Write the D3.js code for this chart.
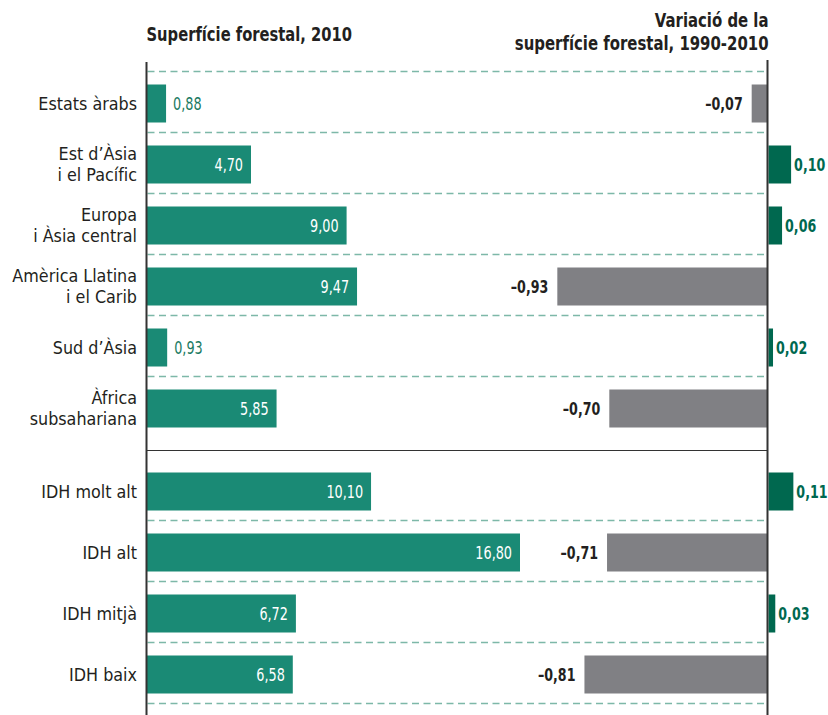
<!DOCTYPE html>
<html lang="ca">
<head>
<meta charset="utf-8">
<title>Superfície forestal</title>
<script src="https://cdn.jsdelivr.net/npm/d3@7"></script>
<style>
  body { margin: 0; background: #fff; }
  text { font-family: "DejaVu Sans Condensed", "Liberation Sans Narrow", "Roboto", sans-serif; }
</style>
</head>
<body>
<script>
// regions (first block) and HDI groups (second block)
var regions = ["Estats àrabs", "Est d’Àsia|i el Pacífic", "Europa|i Àsia central",
               "Amèrica Llatina|i el Carib", "Sud d’Àsia", "Àfrica|subsahariana"];
var regionArea = [0.88, 4.70, 9.00, 9.47, 0.93, 5.85];
var regionChange = [-0.07, 0.10, 0.06, -0.93, 0.02, -0.70];

var groups = ["IDH molt alt", "IDH alt", "IDH mitjà", "IDH baix"];
var groupArea = [10.10, 16.80, 6.72, 6.58];
var groupChange = [0.11, -0.71, 0.03, -0.81];

var width = 828, height = 715;
var svg = d3.select("body").append("svg")
    .attr("width", width).attr("height", height);

var axL = 146.5, axR = 767.5;

var xL = d3.scaleLinear().domain([0, 16.8]).range([axL, 520]);
var xR = d3.scaleLinear().domain([-1, 0]).range([axR - 226, axR]);

var yTop = d3.scaleBand().domain(regions).range([71.5, 71.5 + 6 * 61]);
var yBot = d3.scaleBand().domain(groups).range([459.5, 703.5]);

var teal = "#1a8a75", darkGreen = "#00684f", grey = "#808084", tealText = "#1a7a62";
var fmt = function(v) { return v.toFixed(2).replace(".", ",").replace("-", "–"); };
// horizontal squeeze to mimic a condensed face
var tr = function(x, y, s) { return "translate(" + x + "," + y + ") scale(" + s + ",1)"; };

// headers
svg.append("text").attr("transform", tr(axL, 41, 0.84))
    .attr("font-size", 19.5).attr("font-weight", "bold").attr("fill", "#231f20")
    .text("Superfície forestal, 2010");
svg.append("text").attr("transform", tr(axR + 1, 27, 0.85)).attr("text-anchor", "end")
    .attr("font-size", 19.5).attr("font-weight", "bold").attr("fill", "#231f20")
    .text("Variació de la");
svg.append("text").attr("transform", tr(axR + 1, 50, 0.85)).attr("text-anchor", "end")
    .attr("font-size", 19.5).attr("font-weight", "bold").attr("fill", "#231f20")
    .text("superfície forestal, 1990-2010");

// dashed separators
var dashTop = regions.map(function(d) { return yTop(d); });
var dashBot = groups.map(function(d) { return yBot(d) + yBot.bandwidth(); });
svg.selectAll(".dash").data(dashTop.concat(dashBot)).enter().append("line")
    .attr("x1", axL + 1).attr("x2", axR - 1)
    .attr("y1", function(d) { return d; }).attr("y2", function(d) { return d; })
    .attr("stroke", "#7db8a8").attr("stroke-width", 1.4)
    .attr("stroke-dasharray", "7,4.5");

// solid separator between blocks
svg.append("line").attr("x1", axL).attr("x2", axR).attr("y1", 450.5).attr("y2", 450.5)
    .attr("stroke", "#333").attr("stroke-width", 1.2);

function drawBlock(cats, area, change, y, cls) {
  var rows = cats.map(function(c, i) { return { name: c, area: area[i], change: change[i] }; });
  var g = svg.selectAll("g." + cls).data(rows).enter().append("g").attr("class", cls)
      .attr("transform", function(d) { return "translate(0," + y(d.name) + ")"; });
  var top = 13, bh = 38, mid = top + bh / 2;

  // category label (one or two lines)
  g.each(function(d) {
    var lines = d.name.split("|");
    var t = d3.select(this).append("text").attr("text-anchor", "end")
        .attr("font-size", 18.5).attr("fill", "#231f20")
        .attr("transform", tr(137, 0, 0.96));
    if (lines.length === 1) {
      t.append("tspan").attr("x", 0).attr("y", mid + 6.5).text(lines[0]);
    } else {
      t.append("tspan").attr("x", 0).attr("y", mid - 4).text(lines[0]);
      t.append("tspan").attr("x", 0).attr("y", mid + 17).text(lines[1]);
    }
  });

  // left bars
  g.append("rect").attr("x", xL(0)).attr("y", top)
      .attr("width", function(d) { return xL(d.area) - xL(0); }).attr("height", bh)
      .attr("fill", teal);
  g.append("text").attr("font-size", 18.5)
      .attr("transform", function(d) {
        return tr(d.area < 2 ? xL(d.area) + 7 : xL(d.area) - 8, mid + 6.5, 0.77);
      })
      .attr("text-anchor", function(d) { return d.area < 2 ? "start" : "end"; })
      .attr("fill", function(d) { return d.area < 2 ? tealText : "#fff"; })
      .text(function(d) { return fmt(d.area); });

  // right bars
  g.append("rect").attr("y", top).attr("height", bh)
      .attr("x", function(d) { return d.change < 0 ? xR(d.change) : xR(0) + 1; })
      .attr("width", function(d) { return Math.abs(xR(d.change) - xR(0)); })
      .attr("fill", function(d) { return d.change < 0 ? grey : darkGreen; });
  g.append("text").attr("font-size", 18.5).attr("font-weight", "bold")
      .attr("transform", function(d) {
        return tr(d.change < 0 ? xR(d.change) - 9 : xR(0) + 1 + (xR(d.change) - xR(0)) + 3, mid + 6.5, 0.76);
      })
      .attr("text-anchor", function(d) { return d.change < 0 ? "end" : "start"; })
      .attr("fill", function(d) { return d.change < 0 ? "#231f20" : darkGreen; })
      .text(function(d) { return fmt(d.change); });
}

drawBlock(regions, regionArea, regionChange, yTop, "reg");
drawBlock(groups, groupArea, groupChange, yBot, "idh");

// axis lines
svg.append("line").attr("x1", axL).attr("x2", axL).attr("y1", 62).attr("y2", height)
    .attr("stroke", "#333").attr("stroke-width", 2);
svg.append("line").attr("x1", axR).attr("x2", axR).attr("y1", 60).attr("y2", height)
    .attr("stroke", "#333").attr("stroke-width", 2);
</script>
</body>
</html>
